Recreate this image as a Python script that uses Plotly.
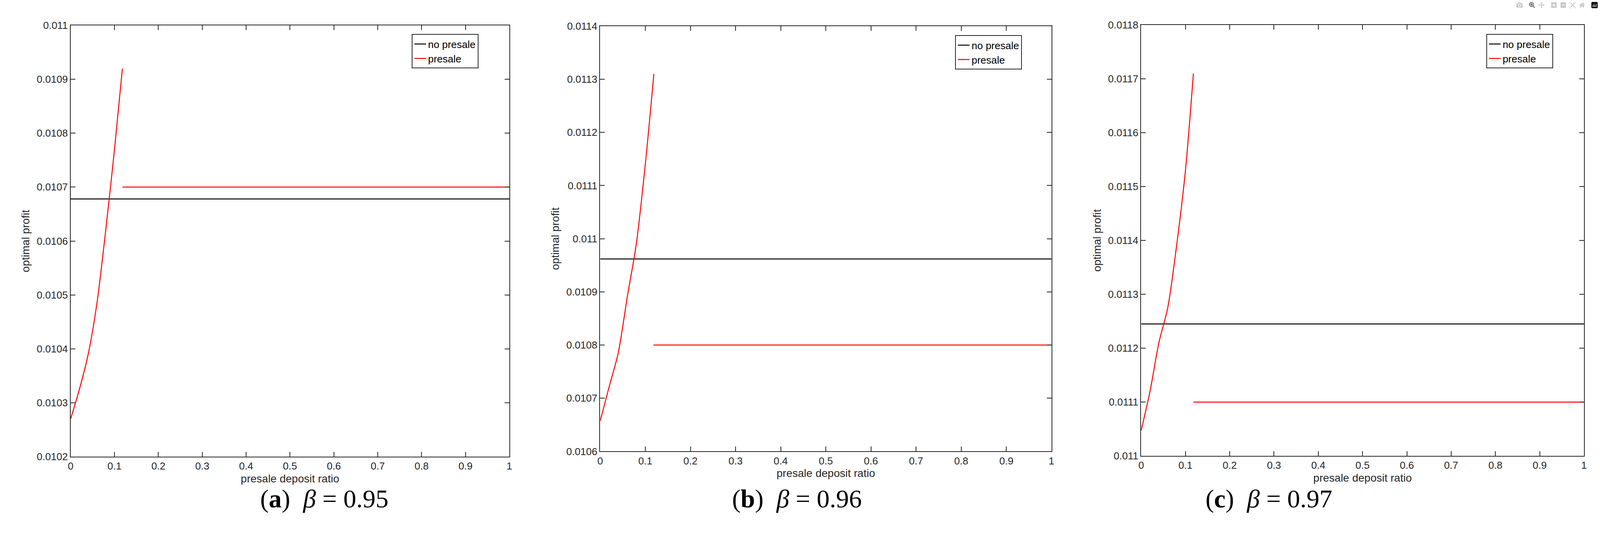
import plotly.graph_objects as go

W, H = 4321, 1422

# Panel (a) beta = 0.95
a_curve_x = [0, 0.02, 0.04, 0.06, 0.08, 0.10, 0.118]
a_curve_y = [0.01027, 0.010325, 0.01039, 0.010485, 0.01062, 0.01077, 0.01092]
a_flat = 0.01070
a_nopresale = 0.010678
a_yticks = [0.0102, 0.0103, 0.0104, 0.0105, 0.0106, 0.0107, 0.0108, 0.0109, 0.011]
a_ylabels = ["0.0102", "0.0103", "0.0104", "0.0105", "0.0106", "0.0107", "0.0108", "0.0109", "0.011"]

# Panel (b) beta = 0.96
b_curve_x = [0, 0.02, 0.04, 0.06, 0.08, 0.10, 0.119]
b_curve_y = [0.010657, 0.010722, 0.010785, 0.01089, 0.01099, 0.01114, 0.01131]
b_flat = 0.01080
b_nopresale = 0.010962
b_yticks = [0.0106, 0.0107, 0.0108, 0.0109, 0.011, 0.0111, 0.0112, 0.0113, 0.0114]
b_ylabels = ["0.0106", "0.0107", "0.0108", "0.0109", "0.011", "0.0111", "0.0112", "0.0113", "0.0114"]

# Panel (c) beta = 0.97
c_curve_x = [0, 0.02, 0.04, 0.06, 0.08, 0.10, 0.118]
c_curve_y = [0.011047, 0.01112, 0.01121, 0.011275, 0.01139, 0.01153, 0.01171]
c_flat = 0.01110
c_nopresale = 0.011245
c_yticks = [0.011, 0.0111, 0.0112, 0.0113, 0.0114, 0.0115, 0.0116, 0.0117, 0.0118]
c_ylabels = ["0.011", "0.0111", "0.0112", "0.0113", "0.0114", "0.0115", "0.0116", "0.0117", "0.0118"]

flat_start = 0.118
x_ticks = [0, 0.1, 0.2, 0.3, 0.4, 0.5, 0.6, 0.7, 0.8, 0.9, 1]
x_labels = ["0", "0.1", "0.2", "0.3", "0.4", "0.5", "0.6", "0.7", "0.8", "0.9", "1"]
captions = [("a", "0.95"), ("b", "0.96"), ("c", "0.97")]

panels = [
    (a_curve_x, a_curve_y, a_flat, a_nopresale, a_yticks, a_ylabels, (184, 1373, 51, 1180), (1108, 74), 695),
    (b_curve_x, b_curve_y, b_flat, b_nopresale, b_yticks, b_ylabels, (1619, 2842, 53, 1166), (2581, 77), 2152),
    (c_curve_x, c_curve_y, c_flat, c_nopresale, c_yticks, c_ylabels, (3085, 4285, 50, 1178), (4020, 74), 3605),
]

fig = go.Figure()
layout = dict(autosize=True, margin=dict(l=0, r=0, t=0, b=0, pad=0),
              paper_bgcolor="white", plot_bgcolor="white",
              font=dict(family="Liberation Sans, Arial", color="#262626"),
              annotations=[])
FONT = "Liberation Sans, Arial"
for i, (cx, cy, flat, nop, yt, yl, box, leg, capx) in enumerate(panels):
    n = "" if i == 0 else str(i + 1)
    xa, ya = "x" + n, "y" + n
    lg = "legend" + n
    fig.add_trace(go.Scatter(x=[0, 1], y=[nop, nop], mode="lines", name="no presale",
                             line=dict(color="black", width=2.5), xaxis=xa, yaxis=ya, legend=lg))
    fig.add_trace(go.Scatter(x=cx, y=cy, mode="lines", name="presale", line_shape="spline",
                             line=dict(color="red", width=2.5, smoothing=0.8), xaxis=xa, yaxis=ya, legend=lg))
    fig.add_trace(go.Scatter(x=[flat_start, 1], y=[flat, flat], mode="lines", showlegend=False,
                             line=dict(color="red", width=2.5), xaxis=xa, yaxis=ya))
    l, r, t, b = box
    axcommon = dict(showline=True, linecolor="#262626", linewidth=2, mirror="ticks",
                    ticks="inside", ticklen=12, tickwidth=2, tickcolor="#262626",
                    showgrid=False, zeroline=False, tickfont=dict(size=26, family=FONT))
    layout["xaxis" + n] = dict(domain=[l / W, r / W], range=[0, 1], tickvals=x_ticks, ticktext=x_labels,
                               anchor=ya, title=dict(text="presale deposit ratio", font=dict(size=28, family=FONT), standoff=8),
                               **axcommon)
    layout["yaxis" + n] = dict(domain=[1 - b / H, 1 - t / H], range=[yt[0], yt[-1]], tickvals=yt, ticktext=yl,
                               anchor=xa, title=dict(text="optimal profit", font=dict(size=28, family=FONT), standoff=10),
                               **axcommon)
    layout[lg] = dict(x=leg[0] / W, y=1 - leg[1] / H, xanchor="left", yanchor="top",
                      bordercolor="#262626", borderwidth=2, bgcolor="white",
                      font=dict(size=26, family=FONT, color="black"), tracegroupgap=0)
    letter, beta = captions[i]
    layout["annotations"].append(dict(
        x=capx / W, y=1 - 1330 / H, xref="paper", yref="paper", showarrow=False,
        text=f"(<b>{letter}</b>)  <i>β</i> = {beta}",
        font=dict(size=66, family="Liberation Serif, Times New Roman", color="black")))

fig.update_layout(**layout)
post = ("document.body.style.margin='0';document.documentElement.style.overflow='hidden';"
        "var gd=document.getElementsByClassName('plotly-graph-div')[0];"
        "gd.style.width='100vw';gd.style.height='100vh';Plotly.Plots.resize(gd);")
fig.write_html("out.html", default_width="100vw", default_height="100vh",
               config={"responsive": True}, post_script=post)
